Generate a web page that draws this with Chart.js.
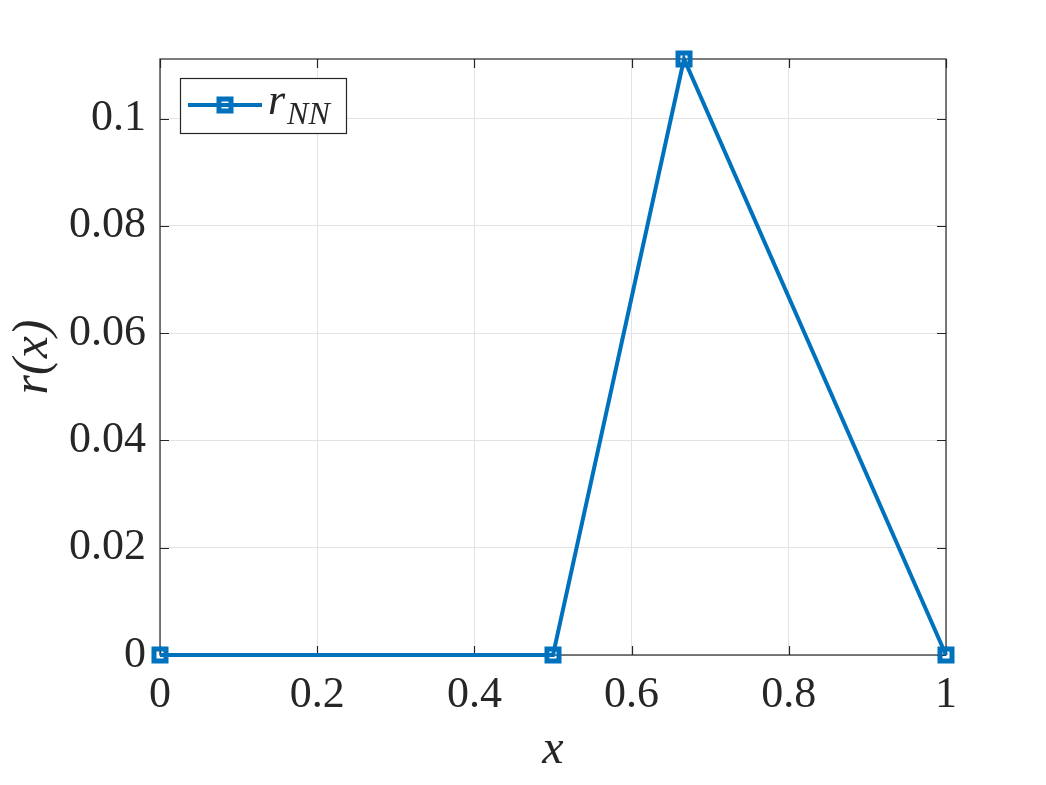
<!DOCTYPE html>
<html>
<head>
<meta charset="utf-8">
<script src="https://cdn.jsdelivr.net/npm/chart.js@4/dist/chart.umd.min.js"></script>
<style>
  html, body { margin: 0; padding: 0; background: #ffffff; }
  #wrap { width: 1046px; height: 785px; position: relative; }
</style>
</head>
<body>
<div id="wrap"><canvas id="c" width="1046" height="785"></canvas></div>
<script>
// ---- data ----
const xValues = [0, 0.5, 0.6667, 1];
const rValues = [0, 0, 0.1111, 0];
const seriesLabel = 'r_NN';
const xTicks = [0, 0.2, 0.4, 0.6, 0.8, 1];
const yTicks = [0, 0.02, 0.04, 0.06, 0.08, 0.1];
const xTitle = 'x';
const yTitle = 'r(x)';
const xRange = [0, 1];
const yRange = [0, 0.1111];

const BLUE = '#0072BD';
const TEXT = '#262626';
const GRID = '#e3e3e3';
const FONT = '"Liberation Serif", "DejaVu Serif", serif';

const points = xValues.map((x, i) => ({ x: x, y: rValues[i] }));

function fmt(v) {
  if (v === 0) return '0';
  if (v === 1) return '1';
  return String(Math.round(v * 100) / 100);
}

// box + inward ticks, drawn below the data
const boxPlugin = {
  id: 'box',
  beforeDatasetsDraw(chart) {
    const { ctx, chartArea: a, scales } = chart;
    ctx.save();
    ctx.strokeStyle = TEXT;
    ctx.lineWidth = 1.2;
    ctx.strokeRect(a.left, a.top, a.right - a.left, a.bottom - a.top);
    const L = 9;
    ctx.beginPath();
    xTicks.forEach(v => {
      const px = Math.round(scales.x.getPixelForValue(v)) + 0.5;
      ctx.moveTo(px, a.bottom); ctx.lineTo(px, a.bottom - L);
      ctx.moveTo(px, a.top); ctx.lineTo(px, a.top + L);
    });
    yTicks.forEach(v => {
      const py = Math.round(scales.y.getPixelForValue(v)) + 0.5;
      ctx.moveTo(a.left, py); ctx.lineTo(a.left + L, py);
      ctx.moveTo(a.right, py); ctx.lineTo(a.right - L, py);
    });
    ctx.stroke();
    ctx.restore();
  }
};

// legend drawn inside plot area (top-left), with subscript text
const legendPlugin = {
  id: 'insideLegend',
  afterDatasetsDraw(chart) {
    const { ctx, chartArea: a } = chart;
    const ds = chart.data.datasets[0];
    const parts = ds.label.split('_');
    const bx = a.left + 20, by = a.top + 19, bw = 166, bh = 55;
    ctx.save();
    ctx.fillStyle = '#ffffff';
    ctx.fillRect(bx, by, bw, bh);
    ctx.strokeStyle = TEXT;
    ctx.lineWidth = 1.2;
    ctx.strokeRect(bx + 0.5, by + 0.5, bw, bh);
    const cy = by + 27;
    ctx.strokeStyle = BLUE;
    ctx.lineWidth = 4;
    ctx.beginPath();
    ctx.moveTo(bx + 8, cy); ctx.lineTo(bx + 82, cy);
    ctx.stroke();
    ctx.lineWidth = 5;
    ctx.strokeRect(bx + 45 - 6, cy - 6, 12, 12);
    ctx.fillStyle = TEXT;
    ctx.textBaseline = 'alphabetic';
    ctx.textAlign = 'left';
    ctx.font = 'italic 44px ' + FONT;
    ctx.fillText(parts[0], bx + 88, cy + 9);
    const w = ctx.measureText(parts[0]).width;
    ctx.font = 'italic 32px ' + FONT;
    ctx.fillText(parts[1] || '', bx + 88 + w + 2, cy + 19);
    ctx.restore();
  }
};

new Chart(document.getElementById('c'), {
  type: 'line',
  data: {
    datasets: [{
      label: seriesLabel,
      data: points,
      borderColor: BLUE,
      borderWidth: 4,
      backgroundColor: 'transparent',
      pointStyle: 'rect',
      pointRadius: 8.5,
      pointBorderWidth: 5,
      pointBorderColor: BLUE,
      pointBackgroundColor: 'transparent',
      pointHoverRadius: 8.5,
      tension: 0,
      clip: false
    }]
  },
  options: {
    responsive: false,
    animation: false,
    devicePixelRatio: 1,
    layout: { padding: { left: 0, top: 59, right: 100, bottom: 0 } },
    plugins: {
      legend: { display: false },
      tooltip: { enabled: false }
    },
    scales: {
      x: {
        type: 'linear',
        min: xRange[0], max: xRange[1],
        afterBuildTicks: s => { s.ticks = xTicks.map(v => ({ value: v })); },
        afterFit: s => { s.height = 130; },
        border: { display: false },
        grid: { color: GRID, lineWidth: 1, drawTicks: false },
        ticks: {
          color: TEXT, padding: 14,
          font: { family: FONT, size: 44 },
          maxRotation: 0, autoSkip: false,
          callback: v => fmt(v)
        },
        title: {
          display: true, text: xTitle, color: TEXT,
          font: { family: FONT, size: 48, style: 'italic' },
          padding: { top: 6, bottom: 6 }
        }
      },
      y: {
        type: 'linear',
        min: yRange[0], max: yRange[1],
        afterBuildTicks: s => { s.ticks = yTicks.map(v => ({ value: v })); },
        afterFit: s => { s.width = 160; },
        border: { display: false },
        grid: { color: GRID, lineWidth: 1, drawTicks: false },
        ticks: {
          color: TEXT, padding: 14,
          font: { family: FONT, size: 44 },
          autoSkip: false,
          callback: v => fmt(v)
        },
        title: {
          display: true, text: yTitle, color: TEXT,
          font: { family: FONT, size: 50, style: 'italic' },
          padding: { top: 4, bottom: 4 }
        }
      }
    }
  },
  plugins: [boxPlugin, legendPlugin]
});
</script>
</body>
</html>
